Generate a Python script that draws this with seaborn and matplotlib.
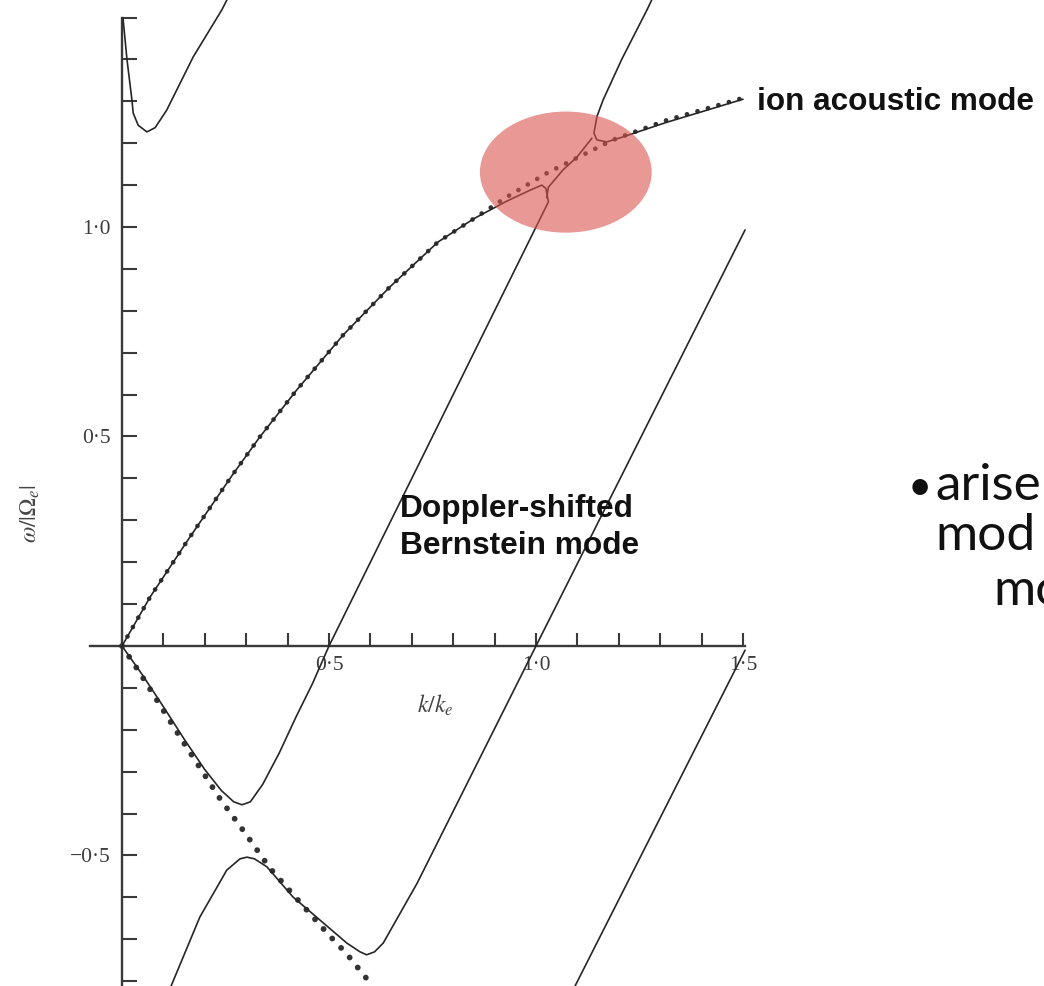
import matplotlib
matplotlib.use("Agg")
import matplotlib.pyplot as plt
from matplotlib.patches import Ellipse
from matplotlib.ticker import FixedLocator, FixedFormatter
import seaborn as sns

# ---- dispersion data: k/k_e and omega/|Omega_e| ----
# uncoupled ion acoustic branch (dotted)
ia_k = [0, 0.068, 0.164, 0.268, 0.333, 0.422, 0.534, 0.647, 0.763, 0.85, 0.93, 1.027, 1.099, 1.186, 1.316, 1.5]
ia_w = [0, 0.117, 0.260, 0.410, 0.499, 0.611, 0.742, 0.857, 0.964, 1.020, 1.072, 1.129, 1.165, 1.208, 1.255, 1.308]

# backward ion acoustic branch (dotted, negative frequency)
nia_k = [0, 0.043, 0.14, 0.237, 0.30, 0.357, 0.43, 0.50, 0.543, 0.60, 0.62]
nia_w = [0, -0.064, -0.217, -0.365, -0.45, -0.53, -0.612, -0.69, -0.735, -0.805, -0.83]

# coupled loop: ion acoustic up to the first junction, down the Bernstein line, back to origin
loop_k = [0, 0.068, 0.164, 0.268, 0.333, 0.422, 0.534, 0.647, 0.763, 0.85, 0.93, 0.986, 1.014, 1.024, 1.03,
          0.90, 0.70, 0.50, 0.46, 0.42, 0.38, 0.34, 0.31, 0.29, 0.27, 0.24, 0.20, 0.15, 0.10, 0.05, 0]
loop_w = [0, 0.117, 0.260, 0.410, 0.499, 0.611, 0.742, 0.857, 0.964, 1.020, 1.062, 1.088, 1.100, 1.092, 1.06,
          0.80, 0.40, 0.0, -0.09, -0.17, -0.255, -0.33, -0.372, -0.379, -0.372, -0.345, -0.295, -0.222, -0.145, -0.07, 0]

# segment between the two junctions
mid_k = [1.026, 1.03, 1.065, 1.099, 1.135]
mid_w = [1.07, 1.095, 1.136, 1.167, 1.212]

# upper Bernstein line turning into the ion acoustic branch
up_k = [1.281, 1.268, 1.207, 1.162, 1.147, 1.140, 1.147, 1.171, 1.21, 1.246, 1.316, 1.40, 1.5]
up_w = [1.545, 1.518, 1.40, 1.303, 1.263, 1.224, 1.208, 1.203, 1.215, 1.227, 1.250, 1.275, 1.305]

# lower coupled wave and the Bernstein line through k = 1
low_k = [0.115, 0.188, 0.253, 0.285, 0.302, 0.32, 0.35, 0.413, 0.478, 0.543, 0.575, 0.591, 0.61, 0.631, 0.713, 1.0, 1.505]
low_w = [-0.82, -0.647, -0.535, -0.508, -0.504, -0.508, -0.527, -0.599, -0.654, -0.709, -0.73, -0.737, -0.73, -0.709, -0.566, 0.0, 0.993]

# Bernstein line near k = 1.5
bd_k = [1.09, 1.505]
bd_w = [-0.82, -0.01]

# upper-left branch near the cyclotron frequency
top_k = [0.0024, 0.012, 0.024, 0.027, 0.039, 0.06, 0.08, 0.108, 0.172, 0.241, 0.255]
top_w = [1.499, 1.40, 1.303, 1.272, 1.243, 1.227, 1.237, 1.279, 1.406, 1.518, 1.545]

# tick values and labels
x_major = [0.5, 1.0, 1.5]
x_labels = ["0·5", "1·0", "1·5"]
x_minor = [0.1, 0.2, 0.3, 0.4, 0.6, 0.7, 0.8, 0.9, 1.1, 1.2, 1.3, 1.4]
y_major = [-0.5, 0.5, 1.0]
y_labels = ["−0·5", "0·5", "1·0"]
y_minor = [-0.8, -0.7, -0.6, -0.4, -0.3, -0.2, -0.1, 0.1, 0.2, 0.3, 0.4,
           0.6, 0.7, 0.8, 0.9, 1.1, 1.2, 1.3, 1.4, 1.5]

sns.set_theme(style="white")
plt.rcParams["font.family"] = ["DejaVu Sans"]
plt.rcParams["mathtext.fontset"] = "stix"

W, H = 1044, 986
fig = plt.figure(figsize=(W / 100, H / 100), dpi=100)
ax = fig.add_axes([0, 0, 1, 1])
ax.set_xlim(-0.2947, 2.2271)
ax.set_ylim(-0.8115, 1.5418)
ax.set_facecolor("white")

ink = "#262626"
axis_ink = "#3a3a3a"

for s in ("top", "right"):
    ax.spines[s].set_visible(False)
ax.spines["left"].set_position(("data", 0))
ax.spines["bottom"].set_position(("data", 0))
ax.spines["left"].set_bounds(-0.8115, 1.5)
ax.spines["bottom"].set_bounds(-0.077, 1.505)
for s in ("left", "bottom"):
    ax.spines[s].set_color(axis_ink)
    ax.spines[s].set_linewidth(1.7)

ax.xaxis.set_major_locator(FixedLocator(x_major))
ax.xaxis.set_major_formatter(FixedFormatter(x_labels))
ax.xaxis.set_minor_locator(FixedLocator(x_minor))
ax.yaxis.set_major_locator(FixedLocator(y_major))
ax.yaxis.set_major_formatter(FixedFormatter(y_labels))
ax.yaxis.set_minor_locator(FixedLocator(y_minor))
ax.tick_params(axis="x", which="both", direction="in", length=9.5, width=1.5,
               color=axis_ink, pad=7, labelsize=15.5, labelcolor="#3c3c3c", bottom=True)
ax.tick_params(axis="y", which="both", direction="in", length=10.5, width=1.5,
               color=axis_ink, pad=8, labelsize=15.5, labelcolor="#3c3c3c", left=True)
for lab in ax.get_xticklabels() + ax.get_yticklabels():
    lab.set_family("Liberation Serif")

def curve(xs, ys, **kw):
    sns.lineplot(x=xs, y=ys, sort=False, estimator=None, ax=ax, legend=False, **kw)

# dotted uncoupled branches
curve(ia_k, ia_w, color="#333333", lw=3.4, linestyle=(0, (0.01, 2.3)),
      dash_capstyle="round", zorder=3)
curve(nia_k, nia_w, color="#333333", lw=4.2, linestyle=(0, (0.01, 2.2)),
      dash_capstyle="round", zorder=3)

# solid coupled branches
for xs, ys in [(loop_k, loop_w), (mid_k, mid_w), (up_k, up_w),
               (low_k, low_w), (bd_k, bd_w), (top_k, top_w)]:
    curve(xs, ys, color=ink, lw=1.2, zorder=4)

# highlighted coupling region
ax.add_patch(Ellipse((1.072, 1.131), 0.415, 0.289, facecolor="#d9534f",
                     edgecolor="none", alpha=0.6, zorder=5))

# axis titles
fig.text(30 / W, 1 - 513 / H, r"$\omega/|\Omega_e|$", rotation=90, ha="center",
         va="center", fontsize=17, color="#444444")
fig.text(435 / W, 1 - 705 / H, r"$k/k_e$", ha="center", va="center",
         fontsize=17, color="#444444")

# annotations
fig.text(757 / W, 1 - 110 / H, "ion acoustic mode", fontsize=22.7, fontweight="bold",
         family="Liberation Sans", color="#111111", va="baseline", ha="left")
fig.text(400 / W, 1 - 517 / H, "Doppler-shifted", fontsize=22.8, fontweight="bold",
         family="Liberation Sans", color="#111111", va="baseline", ha="left", zorder=2)
fig.text(400 / W, 1 - 554 / H, "Bernstein mode", fontsize=22.8, fontweight="bold",
         family="Liberation Sans", color="#111111", va="baseline", ha="left", zorder=2)

# side text
fig.text(908 / W, 1 - 500 / H, "•", fontsize=30, family="Lato", color="#111111",
         va="baseline", ha="left")
fig.text(935 / W, 1 - 500 / H, "arise", fontsize=37, family="Lato", color="#111111",
         va="baseline", ha="left")
fig.text(935 / W, 1 - 550 / H, "mod", fontsize=37, family="Lato", color="#111111",
         va="baseline", ha="left")
fig.text(993 / W, 1 - 605 / H, "mo", fontsize=37, family="Lato", color="#111111",
         va="baseline", ha="left")

fig.savefig("out.png", dpi=100, facecolor="white")
